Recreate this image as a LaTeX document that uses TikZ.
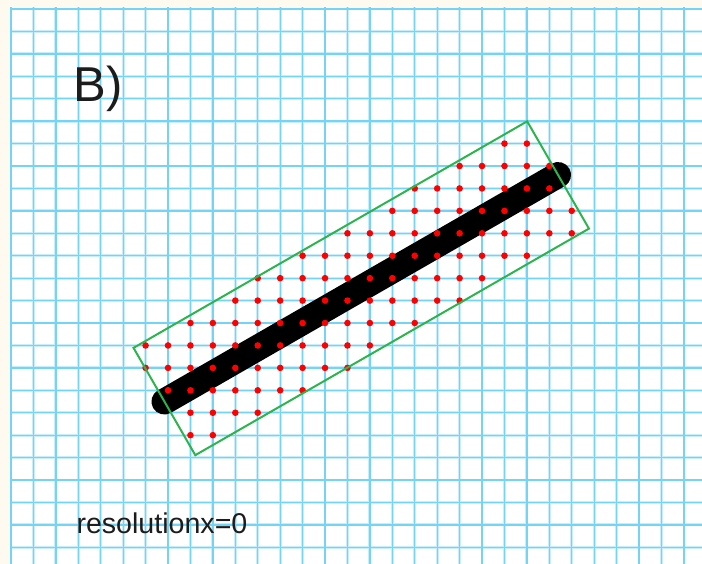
\documentclass[tikz,border=0pt]{standalone}
\usepackage{fontspec}
\setmainfont{Liberation Sans}
\definecolor{paper}{RGB}{255,250,240}
\definecolor{gridhalo}{RGB}{200,238,252}
\definecolor{gridblue}{RGB}{115,212,246}
\definecolor{boxgreen}{RGB}{44,180,78}
\definecolor{ink}{RGB}{28,28,28}
\tikzset{
  gridsoft/.style={draw=gridhalo, line width=2.8pt},
  gridline/.style={draw=gridblue, line width=1.3pt},
  thickseg/.style={draw=black, line width=26pt, line cap=round},
  sampledot/.style={fill=red},
  bufferbox/.style={draw=boxgreen, line width=2pt, line join=miter},
  textlabel/.style={anchor=base west, inner sep=0pt, text=ink}
}
\begin{document}
\begin{tikzpicture}[x=1pt,y=-1pt]
\useasboundingbox (0,0) rectangle (702,564);
\fill[paper] (0,0) rectangle (702,564);
\fill[white] (10,8) rectangle (702,564);
\begin{scope}
  \clip (10,8) rectangle (702,564);
  \begin{scope}[shift={(11,9)}, x=22.43pt, y=-22.43pt]
    % grid (soft halo, then core)
    \foreach \ii in {0,...,30} \draw[gridsoft] (\ii,-0.1) -- (\ii,24.8);
    \foreach \jj in {0,...,24} \draw[gridsoft] (-0.1,\jj) -- (30.9,\jj);
    \foreach \ii in {0,...,30} \draw[gridline] (\ii,-0.1) -- (\ii,24.8);
    \foreach \jj in {0,...,24} \draw[gridline] (-0.1,\jj) -- (30.9,\jj);
  \end{scope}
\end{scope}
\begin{scope}[shift={(11,9)}, x=22.43pt, y=-22.43pt]
  % segment
  \coordinate (A) at (6.84,17.50);
  \coordinate (B) at (24.39,7.40);
  \draw[thickseg] (A) -- (B);
  % sample points: grid points inside the buffer rectangle
  \foreach \ii in {0,...,30}{
    \foreach \jj in {0,...,24}{
      \pgfmathsetmacro\nval{0.8667*\ii-0.4988*\jj+2.801}
      \pgfmathsetmacro\sval{0.4988*\ii+0.8667*\jj-18.579}
      \ifdim\nval pt>-0.04pt
        \ifdim\nval pt<20.25pt
          \ifdim\sval pt>-2.76pt
            \ifdim\sval pt<2.78pt
              \fill[sampledot] (\ii,\jj) circle[radius=3.3pt];
            \fi
          \fi
        \fi
      \fi
    }
  }
  % buffer rectangle
  \coordinate (P1) at (5.463,15.108);
  \coordinate (P2) at (23.013,5.008);
  \coordinate (P3) at (25.767,9.792);
  \coordinate (P4) at (8.217,19.892);
  \draw[bufferbox] (P1) -- (P2) -- (P3) -- (P4) -- cycle;
\end{scope}
\node[textlabel, font=\fontsize{49}{49}\selectfont] (title) at (73.7,101.7) {B)};
\node[textlabel, font=\fontsize{28.6}{28.6}\selectfont] (res) at (76.3,533.3) {resolutionx=0};
\end{tikzpicture}
\end{document}
